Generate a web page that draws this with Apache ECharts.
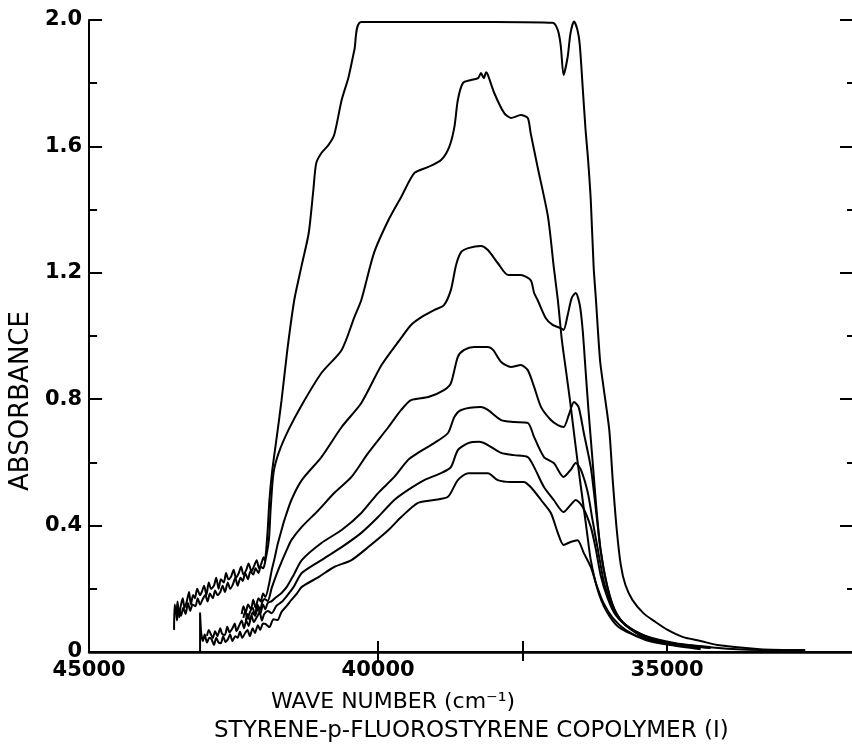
<!DOCTYPE html>
<html>
<head>
<meta charset="utf-8">
<title>Styrene-p-fluorostyrene copolymer (I)</title>
<script src="https://cdn.jsdelivr.net/npm/echarts@6/dist/echarts.min.js"></script>
<style>
  html, body { margin: 0; padding: 0; background: #fff; }
  #main { width: 852px; height: 750px; }
</style>
</head>
<body>
<div id="main"></div>
<script>
/**
 * UV absorbance spectra, styrene-p-fluorostyrene copolymer (I)
 * each curve: [wave number (cm-1), absorbance]
 */

// curve names (concentration labels written on the plot)
const curveNames = ['26.2', '13.1', '8.73', '6.54', '5.24', '4.37', '3.75'];

// where each name is written, [wave number, absorbance]
const namePos = [[38050, 1.962], [38170, 1.658], [38220, 1.184], [38100, 0.867], [38100, 0.709], [38200, 0.608], [38220, 0.506]];

// tick and label values
const xTickValues = [40000, 37500, 35000];
const xTopTickValues = [40000, 37500];
const xLabelValues = [45000, 40000, 35000];

const curve262 = [
  [43530, 0.07], [43520, 0.15], [43490, 0.12], [43470, 0.16], [43440, 0.11], [43420, 0.14], [43380, 0.17],
  [43350, 0.14], [43310, 0.16], [43270, 0.19], [43240, 0.15], [43200, 0.18], [43170, 0.17], [43130, 0.20],
  [43080, 0.18], [43050, 0.19], [43010, 0.21], [42970, 0.18], [42930, 0.22], [42890, 0.20], [42840, 0.21],
  [42800, 0.235], [42760, 0.20], [42720, 0.23], [42670, 0.22], [42630, 0.25], [42590, 0.23], [42540, 0.24],
  [42500, 0.26], [42460, 0.235], [42410, 0.25], [42370, 0.27], [42330, 0.245], [42280, 0.26], [42240, 0.28],
  [42190, 0.255], [42150, 0.27], [42100, 0.29], [42060, 0.265], [42020, 0.28], [41980, 0.30], [41960, 0.29],
  [41910, 0.386], [41880, 0.481], [41830, 0.576], [41760, 0.671], [41670, 0.797], [41570, 0.956], [41450, 1.114],
  [41320, 1.225], [41200, 1.326], [41120, 1.462], [41070, 1.547], [40980, 1.579], [40860, 1.604], [40760, 1.636],
  [40630, 1.747], [40510, 1.820], [40410, 1.905], [40290, 1.994], [38000, 1.994], [36980, 1.991], [36890, 1.968],
  [36840, 1.92], [36790, 1.826], [36720, 1.883], [36670, 1.959], [36610, 1.995], [36550, 1.968], [36510, 1.921],
  [36460, 1.788], [36410, 1.652], [36370, 1.566], [36320, 1.430], [36270, 1.218], [36230, 1.114], [36160, 0.924],
  [36100, 0.839], [36000, 0.703], [35940, 0.544], [35870, 0.386], [35800, 0.275], [35720, 0.212], [35600, 0.165],
  [35410, 0.123], [35200, 0.095], [34990, 0.070], [34720, 0.047], [34420, 0.035], [34130, 0.022], [33390, 0.009],
  [32610, 0.006]
];

const curve131 = [
  [43500, 0.13], [43480, 0.10], [43450, 0.135], [43410, 0.115], [43370, 0.14], [43330, 0.12], [43290, 0.155],
  [43250, 0.13], [43210, 0.15], [43160, 0.145], [43120, 0.17], [43080, 0.15], [43040, 0.165], [42990, 0.18],
  [42950, 0.16], [42910, 0.185], [42860, 0.17], [42820, 0.195], [42780, 0.18], [42730, 0.19], [42690, 0.21],
  [42650, 0.19], [42600, 0.22], [42560, 0.20], [42510, 0.215], [42470, 0.235], [42430, 0.21], [42380, 0.235],
  [42340, 0.225], [42300, 0.25], [42250, 0.23], [42210, 0.255], [42160, 0.245], [42120, 0.265], [42070, 0.25],
  [42030, 0.27], [41990, 0.265], [41960, 0.28],
  [41890, 0.354], [41860, 0.449], [41810, 0.566], [41720, 0.630], [41550, 0.703], [41320, 0.782], [40980, 0.883],
  [40630, 0.956], [40410, 1.060], [40290, 1.114], [40070, 1.263], [39820, 1.367], [39600, 1.440], [39370, 1.516],
  [39130, 1.535], [38910, 1.557], [38770, 1.598], [38680, 1.661], [38620, 1.747], [38530, 1.801], [38390, 1.810],
  [38270, 1.816], [38220, 1.832], [38170, 1.816], [38130, 1.835], [38100, 1.826], [37990, 1.769], [37820, 1.706],
  [37700, 1.690], [37530, 1.699], [37410, 1.690], [37360, 1.642], [37240, 1.535], [37060, 1.377], [36960, 1.218],
  [36890, 1.114], [36820, 0.987], [36750, 0.892], [36680, 0.797], [36610, 0.693], [36530, 0.576], [36460, 0.481],
  [36390, 0.386], [36320, 0.291], [36200, 0.196], [36060, 0.133], [35840, 0.079], [35460, 0.047], [34940, 0.028],
  [34110, 0.013], [33390, 0.006], [32610, 0.003]
];

const curve873 = [
  [42360, 0.120], [42330, 0.145], [42290, 0.125], [42250, 0.15], [42200, 0.135], [42160, 0.165], [42120, 0.14],
  [42070, 0.17], [42030, 0.16], [41990, 0.185], [41950, 0.174], [41890, 0.212], [41840, 0.259], [41790, 0.297],
  [41740, 0.339], [41670, 0.386], [41620, 0.418], [41500, 0.481], [41320, 0.544], [40980, 0.617], [40630, 0.712],
  [40290, 0.788], [39940, 0.908], [39600, 0.994], [39430, 1.035], [39250, 1.060], [39030, 1.082], [38860, 1.098],
  [38740, 1.146], [38650, 1.225], [38560, 1.266], [38440, 1.278], [38220, 1.285], [38100, 1.272], [37930, 1.231],
  [37750, 1.193], [37530, 1.193], [37360, 1.177], [37300, 1.136], [37240, 1.114], [37100, 1.057], [36980, 1.035],
  [36840, 1.025], [36790, 1.019], [36720, 1.066], [36650, 1.120], [36580, 1.136], [36510, 1.098], [36460, 1.019],
  [36410, 0.892], [36360, 0.766], [36290, 0.608], [36220, 0.449], [36150, 0.323], [36040, 0.212], [35910, 0.133],
  [35720, 0.085], [35370, 0.051], [34850, 0.028], [34250, 0.016]
];

const curve654 = [
  [42330, 0.108], [42300, 0.13], [42260, 0.105], [42220, 0.125], [42170, 0.14], [42130, 0.115], [42090, 0.15],
  [42040, 0.135], [42000, 0.16], [41960, 0.168], [41910, 0.161], [41840, 0.203], [41760, 0.244], [41670, 0.285],
  [41580, 0.323], [41500, 0.354], [41320, 0.396], [41030, 0.449], [40760, 0.503], [40460, 0.554], [40170, 0.630],
  [39820, 0.712], [39600, 0.766], [39430, 0.797], [39130, 0.807], [38860, 0.829], [38740, 0.851], [38620, 0.934],
  [38510, 0.956], [38340, 0.965], [38100, 0.965], [38010, 0.956], [37870, 0.918], [37700, 0.902], [37530, 0.908],
  [37410, 0.892], [37300, 0.839], [37180, 0.775], [37010, 0.734], [36890, 0.718], [36790, 0.712], [36700, 0.750],
  [36610, 0.791], [36530, 0.775], [36440, 0.693], [36320, 0.585], [36230, 0.449], [36150, 0.323], [36060, 0.228],
  [35940, 0.149], [35800, 0.101], [35540, 0.063], [35200, 0.038], [34770, 0.022], [34250, 0.013]
];

const curve524 = [
  [42290, 0.098], [42260, 0.12], [42220, 0.10], [42170, 0.125], [42130, 0.115], [42080, 0.14], [42040, 0.12],
  [41990, 0.15], [41950, 0.135], [41910, 0.155], [41840, 0.161], [41760, 0.174], [41670, 0.187], [41580, 0.206],
  [41460, 0.244], [41320, 0.291], [40980, 0.345], [40630, 0.386], [40290, 0.440], [40000, 0.503], [39720, 0.554],
  [39480, 0.608], [39310, 0.630], [39030, 0.661], [38790, 0.693], [38680, 0.744], [38560, 0.766], [38220, 0.775],
  [38100, 0.766], [37870, 0.734], [37650, 0.728], [37410, 0.725], [37300, 0.680], [37130, 0.617], [36960, 0.598],
  [36790, 0.554], [36670, 0.576], [36580, 0.598], [36490, 0.576], [36370, 0.503], [36290, 0.418], [36180, 0.307],
  [36080, 0.212], [35940, 0.142], [35770, 0.095], [35460, 0.057], [35110, 0.035], [34600, 0.019], [34250, 0.013]
];

const curve437 = [
  [42960, 0.051], [42930, 0.07], [42890, 0.055], [42860, 0.044], [42820, 0.066], [42780, 0.05], [42730, 0.075],
  [42700, 0.058], [42650, 0.054], [42610, 0.08], [42570, 0.062], [42520, 0.075], [42480, 0.09], [42450, 0.066],
  [42400, 0.085], [42360, 0.10], [42320, 0.075], [42280, 0.10], [42240, 0.082], [42190, 0.115], [42150, 0.095],
  [42100, 0.11], [42050, 0.125], [42010, 0.10], [41970, 0.12], [41910, 0.130], [41840, 0.123], [41760, 0.146],
  [41670, 0.158], [41580, 0.177], [41460, 0.206], [41320, 0.25], [40980, 0.291], [40630, 0.332], [40290, 0.377],
  [40000, 0.427], [39720, 0.481], [39480, 0.513], [39200, 0.544], [38910, 0.566], [38740, 0.585], [38620, 0.639],
  [38440, 0.661], [38250, 0.665], [38100, 0.655], [37870, 0.630], [37650, 0.623], [37410, 0.617], [37300, 0.585],
  [37130, 0.522], [36960, 0.481], [36790, 0.443], [36670, 0.465], [36580, 0.481], [36460, 0.459], [36320, 0.396],
  [36230, 0.323], [36150, 0.244], [36030, 0.171], [35890, 0.117], [35660, 0.076], [35370, 0.044], [34940, 0.025],
  [34420, 0.013]
];

const curve375 = [
  [43080, 0.0], [43080, 0.125], [43060, 0.06], [43030, 0.035], [43000, 0.055], [42960, 0.03], [42920, 0.045],
  [42880, 0.04], [42840, 0.022], [42800, 0.045], [42760, 0.03], [42720, 0.028], [42680, 0.05], [42640, 0.032],
  [42600, 0.04], [42560, 0.055], [42520, 0.035], [42470, 0.05], [42430, 0.045], [42390, 0.065], [42350, 0.045],
  [42300, 0.06], [42260, 0.07], [42220, 0.05], [42170, 0.075], [42130, 0.06], [42080, 0.085], [42040, 0.07],
  [41990, 0.09], [41950, 0.089], [41880, 0.079], [41810, 0.104], [41740, 0.101], [41670, 0.127], [41580, 0.146],
  [41500, 0.165], [41410, 0.184], [41320, 0.206], [41030, 0.237], [40760, 0.269], [40460, 0.291], [40170, 0.332],
  [39820, 0.386], [39600, 0.427], [39310, 0.472], [39030, 0.481], [38790, 0.491], [38620, 0.544], [38440, 0.566],
  [38100, 0.566], [37930, 0.544], [37700, 0.538], [37480, 0.538], [37360, 0.522], [37180, 0.481], [37010, 0.440],
  [36890, 0.377], [36790, 0.339], [36670, 0.348], [36550, 0.354], [36440, 0.313], [36320, 0.269], [36220, 0.212],
  [36100, 0.155], [35940, 0.108], [35720, 0.070], [35370, 0.038], [34940, 0.022], [34420, 0.009]
];

const curves = [curve262, curve131, curve873, curve654, curve524, curve437, curve375];

const FONT = 'DejaVu Sans';
const INK = '#000';

const chart = echarts.init(document.getElementById('main'));

// one black line per concentration
const lineSeries = curves.map((c, i) => ({
  name: curveNames[i],
  type: 'line',
  data: c,
  symbol: 'none',
  showSymbol: false,
  smooth: 0.25,
  silent: true,
  lineStyle: {color: INK, width: 2},
  z: 2
}));

// the concentration numbers written beside the curves
const nameSeries = {
  type: 'scatter',
  symbolSize: 1,
  itemStyle: {opacity: 0},
  silent: true,
  z: 3,
  data: curveNames.map((n, i) => ({name: n, value: namePos[i]})),
  label: {
    show: true,
    position: 'inside',
    formatter: (p) => p.name,
    color: INK,
    fontFamily: FONT,
    fontWeight: 'bold',
    fontSize: 13
  }
};

const xCommon = {
  type: 'value',
  inverse: true,
  min: 31800,
  max: 45000,
  splitLine: {show: false}
};

const option = {
  animation: false,
  backgroundColor: '#fff',
  grid: {left: 87, right: 0, top: 20, bottom: 98},
  title: [
    {
      text: 'WAVE NUMBER (cm⁻¹)', left: 271, top: 691, padding: 0,
      textStyle: {color: INK, fontFamily: FONT, fontWeight: 'normal', fontSize: 22}
    },
    {
      text: 'STYRENE-p-FLUOROSTYRENE COPOLYMER (I)', left: 214, top: 720, padding: 0,
      textStyle: {color: INK, fontFamily: FONT, fontWeight: 'normal', fontSize: 23}
    }
  ],
  xAxis: [
    Object.assign({}, xCommon, {
      position: 'bottom',
      axisLine: {show: true, lineStyle: {color: INK, width: 2}},
      axisTick: {show: true, inside: true, length: 11, customValues: xTickValues, lineStyle: {color: INK, width: 2}},
      axisLabel: {
        customValues: xLabelValues, margin: 8, color: INK, fontFamily: FONT, fontWeight: 'bold', fontSize: 21,
        formatter: (v) => String(v)
      }
    }),
    Object.assign({}, xCommon, {
      position: 'top',
      axisLine: {show: true, lineStyle: {color: INK, width: 2.5}},
      axisTick: {show: true, inside: true, length: 9, customValues: xTopTickValues, lineStyle: {color: INK, width: 2}},
      axisLabel: {show: false}
    })
  ],
  yAxis: [
    {
      type: 'value',
      min: 0,
      max: 2,
      interval: 0.4,
      name: 'ABSORBANCE',
      nameLocation: 'middle',
      nameGap: 50,
      nameTextStyle: {color: INK, fontFamily: FONT, fontSize: 26, padding: [0, 130, 0, 0]},
      axisLine: {show: true, lineStyle: {color: INK, width: 2}},
      axisTick: {show: true, inside: true, length: 13, lineStyle: {color: INK, width: 2}},
      minorTick: {show: true, splitNumber: 2, length: 8, lineStyle: {color: INK, width: 2}},
      axisLabel: {
        margin: 7, color: INK, fontFamily: FONT, fontWeight: 'bold', fontSize: 21,
        formatter: (v) => (v === 0 ? '0' : v.toFixed(1))
      },
      splitLine: {show: false},
      minorSplitLine: {show: false}
    },
    {
      type: 'value',
      position: 'right',
      min: 0,
      max: 2,
      interval: 0.4,
      axisLine: {show: false},
      axisTick: {show: true, inside: true, length: 12, lineStyle: {color: INK, width: 2}},
      minorTick: {show: true, splitNumber: 2, length: 5, lineStyle: {color: INK, width: 2}},
      axisLabel: {show: false},
      splitLine: {show: false},
      minorSplitLine: {show: false}
    }
  ],
  series: lineSeries.concat([nameSeries])
};

chart.setOption(option);

window.addEventListener('resize', function () {
  chart.resize();
});
</script>
</body>
</html>
